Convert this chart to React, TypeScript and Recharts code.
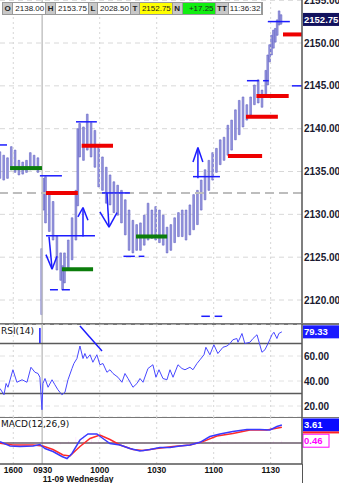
import { Bar, CartesianGrid, ComposedChart, Line, ReferenceLine, XAxis, YAxis } from "recharts";

const WIDTH = 339;
const AXIS_W = 37;
const FONT = "'Liberation Sans', Arial, sans-serif";
const T_DOMAIN: [number, number] = [0, 159];

// x = minutes from left edge of the chart (09:30 = 22.5)
const barTimes = [0, 2, 4, 6, 8, 10, 12, 14, 16, 18, 20, 22, 23, 24, 26, 28, 30, 32, 33, 34, 36, 38, 40, 41, 42, 44, 46, 48, 50, 52, 54, 56, 58, 60, 62, 64, 66, 68, 70, 72, 74, 76, 78, 80, 82, 84, 86, 88, 90, 92, 94, 96, 98, 100, 102, 104, 106, 108, 110, 112, 114, 116, 118, 120, 122, 124, 126, 128, 130, 132, 134, 136, 138, 140, 141, 142, 143, 144, 145, 146, 147, 148];
const barLows = [2134.2, 2134.0, 2134.2, 2135.2, 2134.9, 2134.6, 2134.7, 2134.9, 2135.2, 2135.4, 2134.9, 2118.3, 2130.5, 2129.0, 2128.0, 2127.0, 2123.5, 2122.3, 2121.2, 2122.0, 2123.5, 2124.7, 2127.0, 2131.0, 2136.7, 2136.3, 2137.5, 2136.7, 2135.5, 2133.2, 2132.8, 2131.3, 2131.1, 2130.2, 2129.9, 2129.0, 2127.6, 2125.8, 2125.5, 2125.8, 2125.8, 2126.4, 2127.0, 2127.2, 2127.0, 2126.7, 2126.4, 2125.5, 2125.8, 2126.7, 2127.4, 2127.4, 2127.0, 2127.6, 2128.2, 2128.8, 2130.5, 2131.7, 2132.8, 2134.0, 2134.9, 2135.8, 2136.3, 2136.9, 2137.5, 2138.7, 2139.3, 2140.2, 2141.0, 2141.6, 2142.8, 2143.0, 2142.5, 2143.9, 2145.1, 2147.8, 2148.6, 2149.4, 2150.1, 2150.9, 2152.1, 2152.2];
const barHighs = [2137.3, 2136.9, 2136.6, 2137.9, 2137.5, 2136.3, 2136.1, 2136.3, 2137.2, 2136.9, 2136.6, 2126.0, 2134.2, 2134.4, 2132.6, 2131.5, 2127.5, 2125.5, 2124.0, 2125.5, 2127.0, 2129.6, 2132.8, 2140.0, 2140.6, 2140.2, 2141.7, 2140.7, 2139.8, 2137.9, 2136.7, 2135.5, 2134.6, 2133.8, 2133.4, 2132.8, 2131.7, 2130.5, 2129.3, 2128.8, 2129.0, 2129.9, 2131.3, 2130.5, 2130.9, 2130.5, 2129.9, 2128.5, 2128.8, 2129.6, 2130.2, 2130.5, 2130.5, 2131.1, 2132.3, 2132.8, 2134.0, 2135.2, 2136.3, 2137.2, 2137.7, 2138.7, 2139.0, 2140.4, 2141.0, 2142.2, 2143.3, 2143.7, 2142.8, 2143.7, 2145.1, 2145.7, 2144.5, 2146.8, 2148.6, 2149.8, 2150.9, 2151.5, 2151.7, 2152.7, 2153.75, 2153.3];

const priceDomain: [number, number] = [2117.2, 2155.02];
const priceTicks = [2120, 2125, 2130, 2135, 2140, 2145, 2150, 2155];
const lastPrice = 2152.75;
const prevCloseLevel = 2132.5;

// [from, to, price]
const redLevels = [[24.2, 41, 2132.5], [43, 59.5, 2138.0], [120, 138, 2136.8], [129.5, 146.3, 2141.4], [135, 152, 2143.8], [149, 159, 2151.0]];
const greenLevels = [[5.3, 22.1, 2135.4], [32.6, 49, 2123.6], [71.6, 88, 2127.4]];
const blueLevels = [[0, 3.7, 2138.1], [21, 32.6, 2134.5], [40, 51, 2140.8], [24.2, 50, 2127.5], [53.7, 68.4, 2132.5], [26.3, 30.5, 2121.2], [32.6, 36.8, 2121.2], [65, 71, 2125.1], [73, 76, 2125.1], [101.6, 115.8, 2134.4], [106, 110.5, 2118.1], [113, 117, 2118.1], [130, 136.3, 2145.6], [138.5, 141.5, 2145.6], [141, 152.6, 2152.5], [153.7, 159, 2145.0]];

// hand-drawn arrows: polylines of [t, price]
const arrows = [
  [[25.8, 2127.4], [27.4, 2123.7]],
  [[24.2, 2125.3], [27.4, 2123.6], [30, 2125.1]],
  [[43.7, 2127.4], [43.7, 2130.7]],
  [[41, 2129.7], [43.7, 2130.8], [46.3, 2129.3]],
  [[56.3, 2132.5], [57.4, 2128.5]],
  [[52.6, 2130.3], [57.4, 2128.5], [61.6, 2130.2]],
  [[104.2, 2134.2], [104.2, 2137.7]],
  [[101.6, 2136.1], [104.2, 2137.8], [106.8, 2136.1]],
];

const gridTimes = [7, 52.5, 82.5, 112.5, 142.5];
const sessionOpen = 22.2;
const timeTicks = [7, 22.5, 52.5, 82.5, 112.5, 142.5];
const timeLabels = ["1600", "0930", "1000", "1030", "1100", "1130"];
const dateLabel = "11-09 Wednesday";

const rsiTimes = [0, 2.1, 3.2, 4.2, 6.8, 8.9, 11.6, 14.2, 16.3, 18.4, 20, 21, 22.1, 22.6, 23.7, 25.3, 27.4, 28.9, 30.5, 32.6, 34.2, 35.8, 37.9, 38.9, 40.5, 42.1, 43.7, 44.7, 45.8, 47.4, 48.9, 51, 52.6, 54.2, 56.3, 57.9, 59.5, 62.1, 64.2, 65.8, 67.4, 70, 72.1, 73.7, 75.3, 77.9, 80.5, 82.1, 83.7, 85.8, 87.9, 89.5, 91.1, 93.7, 95.8, 97.4, 100, 101.6, 103.7, 105.3, 107.4, 108.4, 110.5, 112.6, 114.7, 117.4, 119.5, 121.1, 122.6, 124.7, 125.3, 127.4, 128.9, 131.6, 133.2, 135.3, 137.9, 139.5, 141.1, 143.2, 144.2, 145.8, 146.8, 148.4];
const rsiValues = [34, 29, 38, 35, 49, 39, 41, 39, 51, 47, 46, 43, 17, 38, 42, 35, 41, 37, 33, 29, 31, 41, 50, 54, 58, 68, 58, 62, 58, 61, 55, 61, 53, 54, 47, 49, 46, 43, 39, 46, 42, 35, 38, 42, 39, 50, 53, 43, 49, 42, 41, 49, 43, 53, 50, 49, 51, 49, 54, 57, 61, 67, 61, 69, 62, 67, 68, 70, 73, 74, 71, 78, 70, 71, 74, 77, 63, 65, 70, 77, 79, 74, 78, 79.33];
const rsiLast = 79.33;
const rsiMarks = [[[21, 70.4], [21, 82.4]], [[42.1, 84], [53.7, 64]]];

const macdTimes = [0, 5.3, 10.5, 17.4, 21, 23.7, 27.9, 32.6, 35.3, 37.9, 42.1, 46.3, 51, 54.2, 57.9, 63.2, 68.4, 73.7, 79, 84.2, 89.5, 94.7, 100, 105.3, 110.5, 115.8, 122.6, 130, 136.8, 142.1, 145.8, 148.4];
const macdValues = [0.27, -0.6, -0.7, -0.6, -0.3, -1.1, -1.7, -2.7, -3.1, -2.1, 0.6, 1.8, 1.8, 0.9, -0.1, -0.4, -1.1, -1.6, -1.3, -0.9, -0.9, -0.6, -0.4, 0.13, 1.3, 1.8, 2.3, 2.7, 2.7, 2.6, 3.3, 3.61];
const signalTimes = [0, 6.8, 17.4, 22.6, 27.9, 33.2, 36.8, 42.1, 47.4, 52.6, 57.9, 63.2, 70, 75.3, 82.6, 91.1, 100, 106.8, 114.2, 122.6, 131.6, 140.5, 148.4];
const signalValues = [-0.07, -0.4, -0.4, -0.6, -1.3, -2.4, -2.6, -0.7, 0.9, 1.6, 0.7, -0.4, -1.3, -1.5, -1.1, -0.7, -0.4, 0.27, 1.4, 1.9, 2.6, 2.6, 3.15];
const histTimes = [0, 4, 8, 12, 16, 20, 24, 28, 32, 36, 40, 44, 48, 52, 56, 60, 64, 68, 72, 76, 80, 84, 88, 92, 96, 100, 104, 108, 112, 116, 120, 124, 128, 132, 136, 140, 144, 148];
const histValues = [0.2, 0.1, 0.15, 0.1, 0.2, 0.15, -0.3, -0.4, -0.3, 0.4, 1.2, 1.6, 1.0, 0.6, 0.3, 0.2, 0.1, -0.2, -0.3, -0.2, 0.2, 0.3, 0.2, 0.1, 0.2, 0.3, 0.4, 0.5, 0.4, 0.3, 0.3, 0.2, 0.2, 0.2, 0.1, 0.2, 0.4, 0.46];
const macdLast = 3.61;
const histLast = 0.46;

const bars = barTimes.map((t, i) => ({ t, range: [barLows[i], barHighs[i]] }));
const rsiData = rsiTimes.map((t, i) => ({ t, v: rsiValues[i] }));
const macdData = macdTimes.map((t, i) => ({ t, v: macdValues[i] }));
const signalData = signalTimes.map((t, i) => ({ t, v: signalValues[i] }));
const histData = histTimes.map((t, i) => ({ t, h: histValues[i] }));

const header = [
  { k: "O", v: "2138.00", bg: "#fff" },
  { k: "H", v: "2153.75", bg: "#fff" },
  { k: "L", v: "2028.50", bg: "#fff" },
  { k: "T", v: "2152.75", bg: "#ffff00" },
  { k: "N", v: "+17.25", bg: "#11ee11" },
  { k: "TT", v: "11:36:32", bg: "#fff" },
];

function SideTag({ viewBox, text, bg, color, border, underline }: any) {
  if (!viewBox) return null;
  const x = viewBox.x + viewBox.width;
  const y = viewBox.y;
  return (
    <g>
      <rect x={x + 1} y={y - 6.5} width={border ? 26 : 37} height={13} fill={bg} stroke={border ?? "none"} />
      {underline && <rect x={x + 1} y={y + 6.5} width={37} height={2} fill={underline} />}
      <text x={x + 2} y={y + 3.5} fill={color} fontSize={9.5} fontWeight="bold" fontFamily={FONT}>
        {text}
      </text>
    </g>
  );
}

function TimeTick({ x, y, payload }: any) {
  const i = timeTicks.indexOf(payload.value);
  return (
    <g fontFamily={FONT} fontSize={8.5} fontWeight="bold" fill="#111">
      <text x={x} y={y + 8.5} textAnchor="middle">{timeLabels[i]}</text>
      {i === 1 && <text x={x} y={y + 17.5} textAnchor="start">{dateLabel}</text>}
    </g>
  );
}

const axisTick = { fontSize: 10, fontWeight: "bold", fill: "#1a1a30", fontFamily: FONT };

function vLines() {
  return [
    ...gridTimes.map((t) => (
      <ReferenceLine key={`g${t}`} x={t} stroke="#d6d6d6" strokeDasharray="2 3" />
    )),
    <ReferenceLine key="open" x={sessionOpen} stroke="#c4c4c4" strokeWidth={1.5} />,
  ];
}

export default function App() {
  return (
    <div style={{ position: "absolute", left: 0, top: 0, width: WIDTH, height: 483, background: "#fff", overflow: "hidden" }}>
      <div style={{ position: "absolute", top: 0, left: 0 }}>
        <ComposedChart width={WIDTH} height={324} data={bars} margin={{ top: 0, right: 0, bottom: 0, left: 0 }}>
          <CartesianGrid vertical={false} stroke="#d8d8d8" strokeDasharray="5 4" />
          <XAxis dataKey="t" type="number" domain={T_DOMAIN} hide allowDataOverflow />
          <YAxis
            orientation="right"
            width={AXIS_W}
            domain={priceDomain}
            ticks={priceTicks}
            interval={0}
            allowDataOverflow
            tickLine={false}
            tickSize={0}
            tickMargin={2}
            axisLine={{ stroke: "#555", strokeWidth: 1.5 }}
            tick={axisTick}
            tickFormatter={(v: number) => v.toFixed(2)}
          />
          {vLines()}
          <ReferenceLine y={prevCloseLevel} stroke="#bdbdbd" strokeWidth={2} strokeDasharray="9 5" />
          <Bar dataKey="range" barSize={3} fill="#9a9ae0" stroke="#6262c2" strokeWidth={0.6} isAnimationActive={false} />
          {greenLevels.map(([a, b, p], i) => (
            <ReferenceLine key={`gr${i}`} segment={[{ x: a, y: p }, { x: b, y: p }]} stroke="#0b7d0b" strokeWidth={4} />
          ))}
          {redLevels.map(([a, b, p], i) => (
            <ReferenceLine key={`rd${i}`} segment={[{ x: a, y: p }, { x: b, y: p }]} stroke="#ee0000" strokeWidth={4} />
          ))}
          {blueLevels.map(([a, b, p], i) => (
            <ReferenceLine key={`bl${i}`} segment={[{ x: a, y: p }, { x: b, y: p }]} stroke="#1c1cff" strokeWidth={1.5} />
          ))}
          {arrows.flatMap((pts, i) =>
            pts.slice(1).map((pt, j) => (
              <ReferenceLine
                key={`ar${i}-${j}`}
                segment={[{ x: pts[j][0], y: pts[j][1] }, { x: pt[0], y: pt[1] }]}
                stroke="#1c1cff"
                strokeWidth={1.5}
              />
            ))
          )}
          <ReferenceLine
            y={lastPrice}
            stroke="none"
            label={<SideTag text={lastPrice.toFixed(2)} bg="#12125e" color="#fff" />}
          />
        </ComposedChart>
      </div>

      <div style={{ position: "absolute", top: 2, left: 2, display: "flex", fontFamily: FONT, fontSize: 8, lineHeight: "11px", border: "1px solid #999" }}>
        {header.map((h) => (
          <div key={h.k} style={{ display: "flex" }}>
            <span style={{ background: "#c8c8c8", color: "#222", fontWeight: "bold", padding: "0 1.5px", borderRight: "1px solid #999" }}>{h.k}</span>
            <span style={{ background: h.bg, color: "#222", width: 31, textAlign: "right", paddingRight: 1, borderRight: "1px solid #999" }}>{h.v}</span>
          </div>
        ))}
      </div>

      <div style={{ position: "absolute", top: 323, left: 0, width: WIDTH, height: 1.5, background: "#777" }} />
      <div style={{ position: "absolute", top: 324, left: 0 }}>
        <ComposedChart width={WIDTH} height={93} data={rsiData} margin={{ top: 0, right: 0, bottom: 0, left: 0 }}>
          <CartesianGrid vertical={false} stroke="#e2e2e2" strokeDasharray="5 4" />
          <XAxis dataKey="t" type="number" domain={T_DOMAIN} hide allowDataOverflow />
          <YAxis
            orientation="right"
            width={AXIS_W}
            domain={[11.2, 85.6]}
            ticks={[20, 40, 60]}
            interval={0}
            allowDataOverflow
            tickLine={false}
            tickSize={0}
            tickMargin={2}
            axisLine={{ stroke: "#555", strokeWidth: 1.5 }}
            tick={axisTick}
            tickFormatter={(v: number) => v.toFixed(2)}
          />
          {vLines()}
          <ReferenceLine y={70} stroke="#5a5a5a" strokeWidth={1.5} />
          <ReferenceLine y={30} stroke="#5a5a5a" strokeWidth={1.5} />
          <Line dataKey="v" stroke="#4848ff" strokeWidth={1} dot={false} isAnimationActive={false} />
          {rsiMarks.map(([a, b], i) => (
            <ReferenceLine key={`rm${i}`} segment={[{ x: a[0], y: a[1] }, { x: b[0], y: b[1] }]} stroke="#1c1cff" strokeWidth={1.5} />
          ))}
          <ReferenceLine y={rsiLast} stroke="none" label={<SideTag text={rsiLast.toFixed(2)} bg="#1a1aff" color="#fff" />} />
        </ComposedChart>
      </div>
      <div style={{ position: "absolute", top: 326, left: 1, fontFamily: "'DejaVu Sans', sans-serif", fontSize: 9, color: "#111" }}>RSI(14)</div>

      <div style={{ position: "absolute", top: 416.5, left: 0, width: WIDTH, height: 1.5, background: "#777" }} />
      <div style={{ position: "absolute", top: 417, left: 0 }}>
        <ComposedChart width={WIDTH} height={66} data={histData} margin={{ top: 0, right: 0, bottom: 0, left: 0 }}>
          <XAxis
            dataKey="t"
            type="number"
            domain={T_DOMAIN}
            ticks={timeTicks}
            allowDataOverflow
            height={19}
            tickLine={false}
            tickSize={0}
            tickMargin={0}
            axisLine={{ stroke: "#555", strokeWidth: 1.5 }}
            tick={<TimeTick />}
            interval={0}
          />
          <YAxis
            orientation="right"
            width={AXIS_W}
            domain={[-4.2, 5.2]}
            ticks={[]}
            allowDataOverflow
            tickLine={false}
            axisLine={{ stroke: "#555", strokeWidth: 1.5 }}
          />
          {vLines()}
          <Bar dataKey="h" barSize={3} fill="#ff80ff" isAnimationActive={false} />
          <ReferenceLine y={0} stroke="#6a5a6a" strokeWidth={1.5} />
          <Line data={signalData} dataKey="v" stroke="#ff2a2a" strokeWidth={1.5} dot={false} isAnimationActive={false} />
          <Line data={macdData} dataKey="v" stroke="#3a3aff" strokeWidth={1.5} dot={false} isAnimationActive={false} />
          <ReferenceLine y={histLast} stroke="none" label={<SideTag text={histLast.toFixed(2)} bg="#fff" color="#ff00ff" border="#ff00ff" />} />
          <ReferenceLine y={macdLast} stroke="none" label={<SideTag text={macdLast.toFixed(2)} bg="#0a0aff" color="#fff" underline="#ff2020" />} />
        </ComposedChart>
      </div>
      <div style={{ position: "absolute", top: 419, left: 1, fontFamily: "'DejaVu Sans', sans-serif", fontSize: 9, color: "#111" }}>MACD(12,26,9)</div>
      <div style={{ position: "absolute", top: 464, left: 301.5, width: 1.5, height: 19, background: "#555" }} />
    </div>
  );
}
